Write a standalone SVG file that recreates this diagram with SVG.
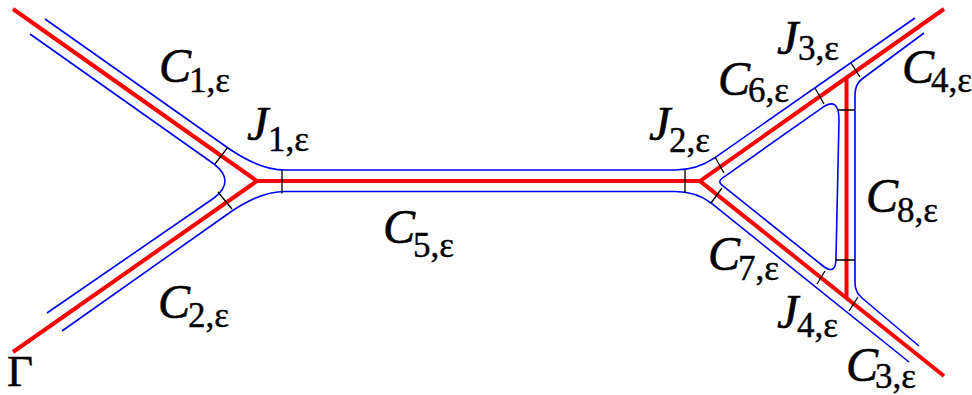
<svg xmlns="http://www.w3.org/2000/svg" width="972" height="395" viewBox="0 0 972 395">
<style>
.red{fill:none;stroke:#ff0000;stroke-width:4;stroke-linejoin:miter}
.blue{fill:none;stroke:#0000ff;stroke-width:1.6}
.tick{fill:none;stroke:#000;stroke-width:1.3}
.m{font-family:'Liberation Serif','Times New Roman','DejaVu Serif',serif;font-size:48px;font-style:italic;fill:#000;stroke:#000;stroke-width:0.6}
.s{font-family:'Liberation Serif','Times New Roman','DejaVu Serif',serif;font-size:35px;fill:#000;stroke:#000;stroke-width:0.4}
.g{font-family:'Liberation Serif','Times New Roman','DejaVu Serif',serif;font-size:45px;fill:#000;stroke:#000;stroke-width:0.5}
</style>
<rect width="972" height="395" fill="#fff"/>
<g id="graph">
<path class="red" d="M13,9 L257,181 L13,352"/>
<path class="red" d="M257,181 L700,181"/>
<path class="red" d="M944,9 L700,181 L944,376"/>
<path class="red" d="M846.5,77.7 L846.5,298"/>
</g>
<g id="tubes">
<path class="blue" d="M915,18 L715,157.6 Q697,170 675,170 L285,170 Q260,170 228,148 L45,19"/>
<path class="blue" d="M62,331 L232,211 Q261,191.5 285,191.5 L675,191.5 Q696,191.5 711,203 L909,362"/>
<path class="blue" d="M30,34 L214,164 Q236,181 214,198 L47,313"/>
<path class="blue" d="M722,178.3 L822,107.8 Q839,96 839,120 L836,258 Q836,276 823,266 L722,185.1 Q717.5,181.5 722,178.3 Z"/>
<path class="blue" d="M924,33 L862,79 Q855,84 855,95 L855,283 Q855,292 862,298 L919,346"/>
</g>
<g id="ticks">
<path class="tick" d="M228,147 L215,164 M218,192 L232,209 M282,170 L282,193.5 M685,170 L685,193 M715,157 L724,173 M722,188 L711,203 M815,88 L824,104 M851,63 L860,77 M838,110 L855,110 M825,271 L817,284 M858,297 L849,311 M836,260 L855,260"/>
</g>
<g id="labels">
<text x="159" y="82" class="m">C</text><text x="189" y="92" class="s">1,ε</text>
<text x="247" y="140" class="m">J</text><text x="268" y="151" class="s">1,ε</text>
<text x="158" y="318" class="m">C</text><text x="188" y="327" class="s">2,ε</text>
<text x="7" y="386" class="g">Γ</text>
<text x="383" y="243" class="m">C</text><text x="413" y="257" class="s">5,ε</text>
<text x="649" y="140" class="m">J</text><text x="669" y="152" class="s">2,ε</text>
<text x="718" y="95" class="m">C</text><text x="748" y="102" class="s">6,ε</text>
<text x="777" y="54" class="m">J</text><text x="798" y="60" class="s">3,ε</text>
<text x="902" y="83" class="m">C</text><text x="931" y="92" class="s">4,ε</text>
<text x="866" y="212" class="m">C</text><text x="897" y="222" class="s">8,ε</text>
<text x="708" y="270" class="m">C</text><text x="738" y="280" class="s">7,ε</text>
<text x="777" y="328" class="m">J</text><text x="797" y="337" class="s">4,ε</text>
<text x="846" y="381" class="m">C</text><text x="875" y="388" class="s">3,ε</text>
</g>
</svg>
